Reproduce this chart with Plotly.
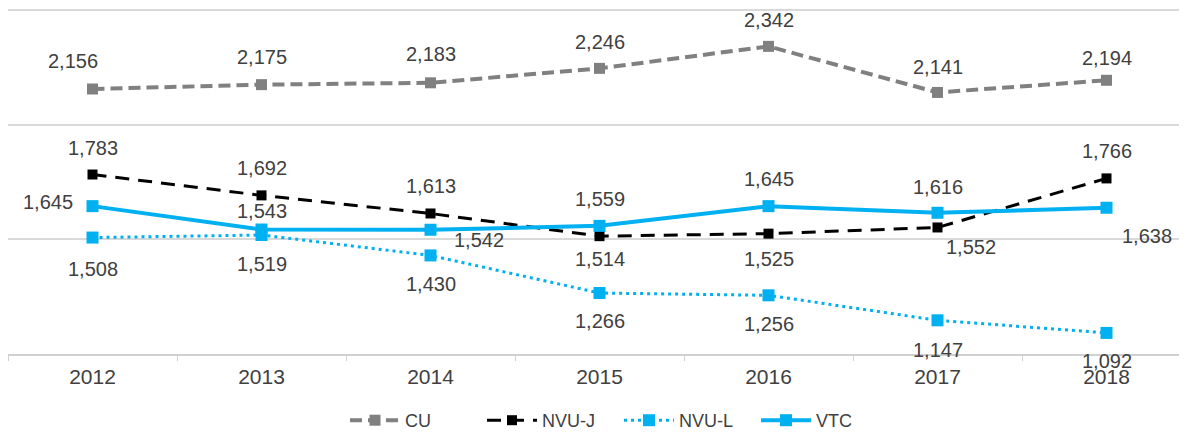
import plotly.graph_objects as go

years = ["2012", "2013", "2014", "2015", "2016", "2017", "2018"]
cu = [2156, 2175, 2183, 2246, 2342, 2141, 2194]
nvu_j = [1783, 1692, 1613, 1514, 1525, 1552, 1766]
nvu_l = [1508, 1519, 1430, 1266, 1256, 1147, 1092]
vtc = [1645, 1543, 1542, 1559, 1645, 1616, 1638]

BLUE = "#00b0f0"
GRAY = "#808080"
TXT = "#404040"
LABEL_FONT = dict(family="Liberation Sans, Arial, sans-serif", size=20, color=TXT)

# label offsets (xshift, yshift) in pixels per series
offsets = {
    "CU": [(-20, 28), (0, 28), (0, 29), (0, 26), (0, 26), (0, 25), (0, 22)],
    "NVU-J": [(0, 27), (0, 27), (0, 27), (0, -23), (0, -25), (33, -20), (0, 27)],
    "NVU-L": [(0, -31), (0, -29), (0, -29), (0, -28), (0, -29), (0, -30), (0, -28)],
    "VTC": [(-45, 4), (0, 19), (48, -10), (0, 27), (0, 27), (0, 26), (40, -28)],
}

series = [
    ("CU", cu, dict(color=GRAY, width=4, dash="12px,6px"), dict(symbol="square", size=11, color=GRAY)),
    ("NVU-J", nvu_j, dict(color="black", width=3, dash="14px,9px"), dict(symbol="square", size=10, color="black")),
    ("NVU-L", nvu_l, dict(color=BLUE, width=3, dash="3px,4px"), dict(symbol="square", size=12, color=BLUE)),
    ("VTC", vtc, dict(color=BLUE, width=4), dict(symbol="square", size=12, color=BLUE)),
]

fig = go.Figure()
for name, vals, line, marker in series:
    fig.add_trace(go.Scatter(x=years, y=vals, name=name, mode="lines+markers",
                             line=line, marker=marker))
    for i, (v, (dx, dy)) in enumerate(zip(vals, offsets[name])):
        fig.add_annotation(x=i, y=v, xref="x", yref="y", text=f"{v:,}", showarrow=False,
                           xshift=dx, yshift=dy, font=LABEL_FONT)

# page body has an 8px margin; figure occupies page x 8..1187, y 8..437
W, H = 1179, 429
fig.update_layout(
    width=W, height=H,
    margin=dict(l=0, r=0, t=1, b=83, autoexpand=False),
    plot_bgcolor="white", paper_bgcolor="white",
    showlegend=True,
    legend=dict(orientation="h", x=(345 - 8) / W, xref="container", xanchor="left",
                y=1 - 394 / H, yref="container", yanchor="top",
                font=dict(family="Liberation Sans Narrow, Arial Narrow, Liberation Sans", size=18, color=TXT),
                itemwidth=50, entrywidth=72, traceorder="normal"),
    xaxis=dict(type="category", range=[-0.5, -0.5 + W / 169], showgrid=False,
               showline=True, linecolor="#d0d0d0", linewidth=1.5,
               ticks="outside", tickson="boundaries", ticklen=5, tickcolor="#d0d0d0",
               ticklabelstandoff=3,
               tickfont=dict(family="Liberation Sans, Arial, sans-serif", size=21, color=TXT)),
    yaxis=dict(range=[1000, 2505], tickvals=[1500, 2000, 2500], showgrid=True, gridcolor="#d9d9d9", gridwidth=1.5,
               showticklabels=False, zeroline=False, showline=False),
)

fig.write_html("out.html")
